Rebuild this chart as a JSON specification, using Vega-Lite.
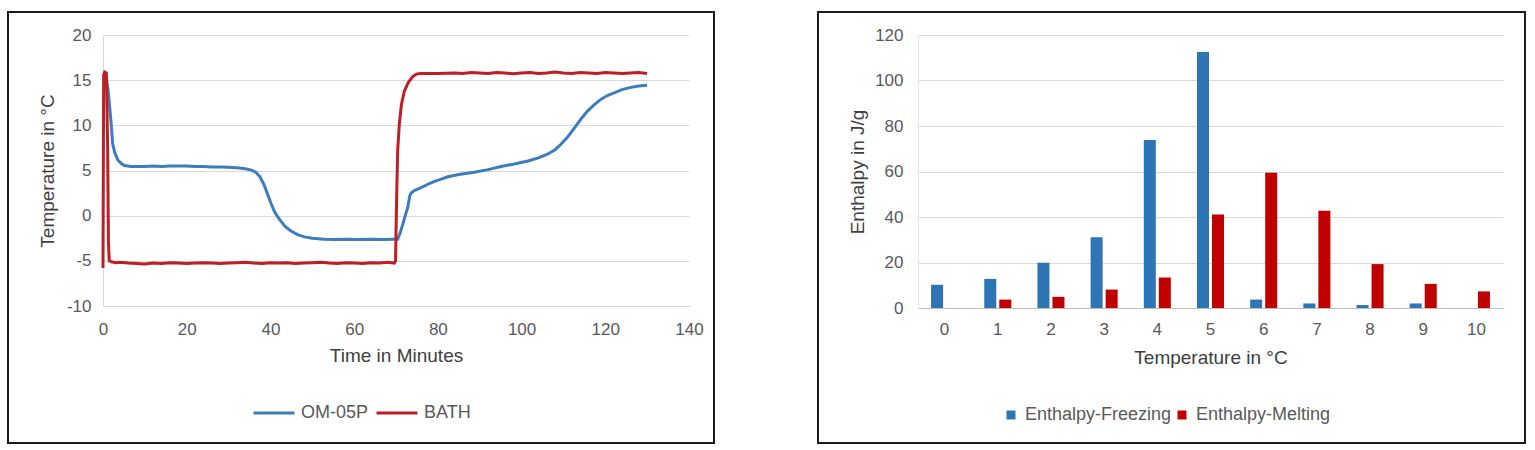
{
  "$schema": "https://vega.github.io/schema/vega-lite/v6.json",
  "background": "white",
  "padding": {"left": 7, "top": 11, "right": 0, "bottom": 0},
  "spacing": 102,
  "resolve": {"scale": {"color": "independent"}, "legend": {"color": "independent"}},
  "config": {
    "view": {"stroke": "#1a1a1a", "strokeWidth": 2},
    "font": "Liberation Sans",
    "axis": {
      "labelFont": "Liberation Sans",
      "labelFontSize": 17,
      "labelColor": "#595959",
      "labelFlush": false,
      "titleFont": "Liberation Sans",
      "titleFontSize": 19,
      "titleFontWeight": "normal",
      "titleColor": "#404040",
      "ticks": false,
      "gridColor": "#d9d9d9",
      "gridWidth": 1,
      "domainColor": "#d9d9d9"
    },
    "legend": {
      "labelFont": "Liberation Sans",
      "labelFontSize": 18,
      "labelColor": "#595959"
    }
  },
  "hconcat": [
    {
      "width": 706,
      "height": 431,
      "data": {
        "values": [
          {"t": 0.3, "T": 15.7, "series": "OM-05P"},
          {"t": 0.7, "T": 15.5, "series": "OM-05P"},
          {"t": 1.2, "T": 14.0, "series": "OM-05P"},
          {"t": 1.6, "T": 12.0, "series": "OM-05P"},
          {"t": 1.9, "T": 10.5, "series": "OM-05P"},
          {"t": 2.3, "T": 8.0, "series": "OM-05P"},
          {"t": 2.8, "T": 7.0, "series": "OM-05P"},
          {"t": 3.5, "T": 6.2, "series": "OM-05P"},
          {"t": 4.3, "T": 5.8, "series": "OM-05P"},
          {"t": 5.1, "T": 5.55, "series": "OM-05P"},
          {"t": 6.7, "T": 5.45, "series": "OM-05P"},
          {"t": 8, "T": 5.45, "series": "OM-05P"},
          {"t": 10, "T": 5.45, "series": "OM-05P"},
          {"t": 12, "T": 5.5, "series": "OM-05P"},
          {"t": 14, "T": 5.45, "series": "OM-05P"},
          {"t": 16, "T": 5.5, "series": "OM-05P"},
          {"t": 18, "T": 5.5, "series": "OM-05P"},
          {"t": 20, "T": 5.5, "series": "OM-05P"},
          {"t": 22, "T": 5.45, "series": "OM-05P"},
          {"t": 24, "T": 5.45, "series": "OM-05P"},
          {"t": 26, "T": 5.4, "series": "OM-05P"},
          {"t": 28, "T": 5.4, "series": "OM-05P"},
          {"t": 30, "T": 5.35, "series": "OM-05P"},
          {"t": 32, "T": 5.3, "series": "OM-05P"},
          {"t": 34, "T": 5.2, "series": "OM-05P"},
          {"t": 35.5, "T": 5.05, "series": "OM-05P"},
          {"t": 36.5, "T": 4.8, "series": "OM-05P"},
          {"t": 37.5, "T": 4.3, "series": "OM-05P"},
          {"t": 38.5, "T": 3.4, "series": "OM-05P"},
          {"t": 39.3, "T": 2.4, "series": "OM-05P"},
          {"t": 40.1, "T": 1.4, "series": "OM-05P"},
          {"t": 40.9, "T": 0.5, "series": "OM-05P"},
          {"t": 41.7, "T": -0.1, "series": "OM-05P"},
          {"t": 42.5, "T": -0.6, "series": "OM-05P"},
          {"t": 43.5, "T": -1.2, "series": "OM-05P"},
          {"t": 44.9, "T": -1.7, "series": "OM-05P"},
          {"t": 46.5, "T": -2.1, "series": "OM-05P"},
          {"t": 48.1, "T": -2.35, "series": "OM-05P"},
          {"t": 50, "T": -2.5, "series": "OM-05P"},
          {"t": 52.9, "T": -2.6, "series": "OM-05P"},
          {"t": 55, "T": -2.65, "series": "OM-05P"},
          {"t": 58, "T": -2.6, "series": "OM-05P"},
          {"t": 61, "T": -2.65, "series": "OM-05P"},
          {"t": 64, "T": -2.6, "series": "OM-05P"},
          {"t": 67, "T": -2.65, "series": "OM-05P"},
          {"t": 69.5, "T": -2.6, "series": "OM-05P"},
          {"t": 70.4, "T": -2.6, "series": "OM-05P"},
          {"t": 71, "T": -1.9, "series": "OM-05P"},
          {"t": 71.6, "T": -1.0, "series": "OM-05P"},
          {"t": 72.2, "T": 0.0, "series": "OM-05P"},
          {"t": 72.8, "T": 0.9, "series": "OM-05P"},
          {"t": 73.3, "T": 2.2, "series": "OM-05P"},
          {"t": 73.6, "T": 2.5, "series": "OM-05P"},
          {"t": 74.5, "T": 2.8, "series": "OM-05P"},
          {"t": 76, "T": 3.1, "series": "OM-05P"},
          {"t": 77.5, "T": 3.45, "series": "OM-05P"},
          {"t": 79.2, "T": 3.8, "series": "OM-05P"},
          {"t": 80.8, "T": 4.05, "series": "OM-05P"},
          {"t": 82.4, "T": 4.3, "series": "OM-05P"},
          {"t": 85, "T": 4.55, "series": "OM-05P"},
          {"t": 88.7, "T": 4.8, "series": "OM-05P"},
          {"t": 92, "T": 5.1, "series": "OM-05P"},
          {"t": 95.1, "T": 5.45, "series": "OM-05P"},
          {"t": 98, "T": 5.7, "series": "OM-05P"},
          {"t": 101.5, "T": 6.05, "series": "OM-05P"},
          {"t": 104, "T": 6.4, "series": "OM-05P"},
          {"t": 106.2, "T": 6.8, "series": "OM-05P"},
          {"t": 108, "T": 7.3, "series": "OM-05P"},
          {"t": 109.4, "T": 7.9, "series": "OM-05P"},
          {"t": 111, "T": 8.7, "series": "OM-05P"},
          {"t": 112.6, "T": 9.7, "series": "OM-05P"},
          {"t": 114.2, "T": 10.7, "series": "OM-05P"},
          {"t": 115.8, "T": 11.6, "series": "OM-05P"},
          {"t": 117.4, "T": 12.3, "series": "OM-05P"},
          {"t": 119, "T": 12.9, "series": "OM-05P"},
          {"t": 120.5, "T": 13.3, "series": "OM-05P"},
          {"t": 122.1, "T": 13.6, "series": "OM-05P"},
          {"t": 124, "T": 13.95, "series": "OM-05P"},
          {"t": 126.1, "T": 14.2, "series": "OM-05P"},
          {"t": 128, "T": 14.35, "series": "OM-05P"},
          {"t": 130, "T": 14.45, "series": "OM-05P"},
          {"t": 0, "T": -5.8, "series": "BATH"},
          {"t": 0.15, "T": 15.6, "series": "BATH"},
          {"t": 0.4, "T": 15.9, "series": "BATH"},
          {"t": 0.8, "T": 15.8, "series": "BATH"},
          {"t": 1.1, "T": 8.0, "series": "BATH"},
          {"t": 1.3, "T": -3.0, "series": "BATH"},
          {"t": 1.5, "T": -5.0, "series": "BATH"},
          {"t": 2, "T": -5.1, "series": "BATH"},
          {"t": 3, "T": -5.2, "series": "BATH"},
          {"t": 4, "T": -5.15, "series": "BATH"},
          {"t": 6, "T": -5.25, "series": "BATH"},
          {"t": 8, "T": -5.3, "series": "BATH"},
          {"t": 10, "T": -5.35, "series": "BATH"},
          {"t": 12, "T": -5.25, "series": "BATH"},
          {"t": 14, "T": -5.3, "series": "BATH"},
          {"t": 16, "T": -5.2, "series": "BATH"},
          {"t": 18, "T": -5.25, "series": "BATH"},
          {"t": 20, "T": -5.3, "series": "BATH"},
          {"t": 22, "T": -5.25, "series": "BATH"},
          {"t": 24, "T": -5.2, "series": "BATH"},
          {"t": 26, "T": -5.25, "series": "BATH"},
          {"t": 28, "T": -5.3, "series": "BATH"},
          {"t": 30, "T": -5.25, "series": "BATH"},
          {"t": 32, "T": -5.2, "series": "BATH"},
          {"t": 34, "T": -5.15, "series": "BATH"},
          {"t": 36, "T": -5.25, "series": "BATH"},
          {"t": 38, "T": -5.3, "series": "BATH"},
          {"t": 40, "T": -5.2, "series": "BATH"},
          {"t": 42, "T": -5.25, "series": "BATH"},
          {"t": 44, "T": -5.2, "series": "BATH"},
          {"t": 46, "T": -5.3, "series": "BATH"},
          {"t": 48, "T": -5.25, "series": "BATH"},
          {"t": 50, "T": -5.2, "series": "BATH"},
          {"t": 52, "T": -5.15, "series": "BATH"},
          {"t": 54, "T": -5.25, "series": "BATH"},
          {"t": 56, "T": -5.3, "series": "BATH"},
          {"t": 58, "T": -5.2, "series": "BATH"},
          {"t": 60, "T": -5.25, "series": "BATH"},
          {"t": 62, "T": -5.3, "series": "BATH"},
          {"t": 64, "T": -5.2, "series": "BATH"},
          {"t": 66, "T": -5.25, "series": "BATH"},
          {"t": 68, "T": -5.15, "series": "BATH"},
          {"t": 69.6, "T": -5.25, "series": "BATH"},
          {"t": 69.9, "T": -5.0, "series": "BATH"},
          {"t": 70.0, "T": -2.0, "series": "BATH"},
          {"t": 70.2, "T": 3.0, "series": "BATH"},
          {"t": 70.4, "T": 7.2, "series": "BATH"},
          {"t": 70.8, "T": 10.2, "series": "BATH"},
          {"t": 71.3, "T": 12.3, "series": "BATH"},
          {"t": 72, "T": 13.8, "series": "BATH"},
          {"t": 73, "T": 14.8, "series": "BATH"},
          {"t": 74, "T": 15.4, "series": "BATH"},
          {"t": 75, "T": 15.7, "series": "BATH"},
          {"t": 76, "T": 15.75, "series": "BATH"},
          {"t": 80, "T": 15.75, "series": "BATH"},
          {"t": 84, "T": 15.8, "series": "BATH"},
          {"t": 86, "T": 15.75, "series": "BATH"},
          {"t": 88, "T": 15.85, "series": "BATH"},
          {"t": 90, "T": 15.8, "series": "BATH"},
          {"t": 92, "T": 15.75, "series": "BATH"},
          {"t": 94, "T": 15.85, "series": "BATH"},
          {"t": 96, "T": 15.8, "series": "BATH"},
          {"t": 98, "T": 15.7, "series": "BATH"},
          {"t": 100, "T": 15.8, "series": "BATH"},
          {"t": 102, "T": 15.85, "series": "BATH"},
          {"t": 104, "T": 15.75, "series": "BATH"},
          {"t": 106, "T": 15.8, "series": "BATH"},
          {"t": 108, "T": 15.9, "series": "BATH"},
          {"t": 110, "T": 15.8, "series": "BATH"},
          {"t": 112, "T": 15.75, "series": "BATH"},
          {"t": 114, "T": 15.85, "series": "BATH"},
          {"t": 116, "T": 15.8, "series": "BATH"},
          {"t": 118, "T": 15.75, "series": "BATH"},
          {"t": 120, "T": 15.85, "series": "BATH"},
          {"t": 122, "T": 15.8, "series": "BATH"},
          {"t": 124, "T": 15.75, "series": "BATH"},
          {"t": 126, "T": 15.8, "series": "BATH"},
          {"t": 128, "T": 15.85, "series": "BATH"},
          {"t": 130, "T": 15.75, "series": "BATH"}
        ]
      },
      "mark": {"type": "line", "strokeWidth": 3},
      "encoding": {
        "x": {
          "field": "t",
          "type": "quantitative",
          "scale": {"domain": [0, 140], "range": [95, 681], "nice": false},
          "axis": {
            "title": "Time in Minutes",
            "values": [0, 20, 40, 60, 80, 100, 120, 140],
            "offset": -137,
            "grid": false,
            "labelPadding": 15,
            "titlePadding": 9
          }
        },
        "y": {
          "field": "T",
          "type": "quantitative",
          "scale": {"domain": [-10, 20], "range": [294, 23], "nice": false},
          "axis": {
            "title": "Temperature in °C",
            "values": [-10, -5, 0, 5, 10, 15, 20],
            "labelExpr": "toString(datum.value)",
            "offset": -95,
            "grid": true,
            "labelPadding": 12,
            "titlePadding": 9
          }
        },
        "color": {
          "field": "series",
          "type": "nominal",
          "sort": ["OM-05P", "BATH"],
          "scale": {"domain": ["OM-05P", "BATH"], "range": ["#3b7dbd", "#be1e24"]},
          "legend": {
            "title": null,
            "orient": "none",
            "legendX": 244,
            "legendY": 379,
            "direction": "horizontal",
            "symbolType": "stroke",
            "symbolSize": 1681,
            "symbolStrokeWidth": 3,
            "columnPadding": 1,
            "labelOffset": 5
          }
        }
      }
    },
    {
      "width": 707,
      "height": 431,
      "data": {
        "values": [
          {"temp": 0, "value": 10.2, "series": "Enthalpy-Freezing"},
          {"temp": 0, "value": 0, "series": "Enthalpy-Melting"},
          {"temp": 1, "value": 12.8, "series": "Enthalpy-Freezing"},
          {"temp": 1, "value": 3.7, "series": "Enthalpy-Melting"},
          {"temp": 2, "value": 19.9, "series": "Enthalpy-Freezing"},
          {"temp": 2, "value": 4.9, "series": "Enthalpy-Melting"},
          {"temp": 3, "value": 31.1, "series": "Enthalpy-Freezing"},
          {"temp": 3, "value": 8.1, "series": "Enthalpy-Melting"},
          {"temp": 4, "value": 73.8, "series": "Enthalpy-Freezing"},
          {"temp": 4, "value": 13.4, "series": "Enthalpy-Melting"},
          {"temp": 5, "value": 112.5, "series": "Enthalpy-Freezing"},
          {"temp": 5, "value": 41.1, "series": "Enthalpy-Melting"},
          {"temp": 6, "value": 3.7, "series": "Enthalpy-Freezing"},
          {"temp": 6, "value": 59.4, "series": "Enthalpy-Melting"},
          {"temp": 7, "value": 2.0, "series": "Enthalpy-Freezing"},
          {"temp": 7, "value": 42.8, "series": "Enthalpy-Melting"},
          {"temp": 8, "value": 1.3, "series": "Enthalpy-Freezing"},
          {"temp": 8, "value": 19.3, "series": "Enthalpy-Melting"},
          {"temp": 9, "value": 2.0, "series": "Enthalpy-Freezing"},
          {"temp": 9, "value": 10.6, "series": "Enthalpy-Melting"},
          {"temp": 10, "value": 0, "series": "Enthalpy-Freezing"},
          {"temp": 10, "value": 7.3, "series": "Enthalpy-Melting"}
        ]
      },
      "mark": {"type": "bar"},
      "encoding": {
        "x": {
          "field": "temp",
          "type": "ordinal",
          "scale": {"range": [100, 685], "paddingInner": 0, "paddingOuter": 0},
          "axis": {
            "title": "Temperature in °C",
            "labelAngle": 0,
            "offset": -135,
            "grid": false,
            "domainColor": "#bfbfbf",
            "labelPadding": 13,
            "titlePadding": 11
          }
        },
        "xOffset": {
          "field": "series",
          "type": "nominal",
          "scale": {"paddingInner": 0.2, "paddingOuter": 0.87}
        },
        "y": {
          "field": "value",
          "type": "quantitative",
          "scale": {"domain": [0, 120], "range": [296, 23], "nice": false},
          "axis": {
            "title": "Enthalpy in J/g",
            "values": [0, 20, 40, 60, 80, 100, 120],
            "offset": -100,
            "grid": true,
            "domainColor": "#e6e6e6",
            "labelPadding": 15,
            "titlePadding": 7
          }
        },
        "color": {
          "field": "series",
          "type": "nominal",
          "scale": {"domain": ["Enthalpy-Freezing", "Enthalpy-Melting"], "range": ["#2e75b6", "#c00000"]},
          "legend": {
            "title": null,
            "orient": "none",
            "legendX": 184,
            "legendY": 394,
            "direction": "horizontal",
            "symbolType": "square",
            "symbolSize": 81,
            "columnPadding": 1,
            "labelOffset": 5
          }
        }
      }
    }
  ]
}
